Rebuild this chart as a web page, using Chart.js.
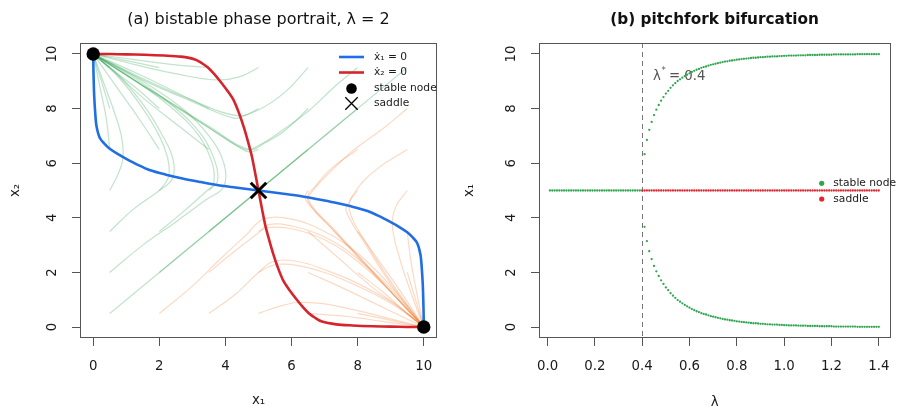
<!DOCTYPE html>
<html><head><meta charset="utf-8">
<script src="https://cdn.jsdelivr.net/npm/chart.js@4.4.1/dist/chart.umd.min.js"></script>
<style>
html,body{margin:0;padding:0;background:#fff;}
#wrap{position:relative;width:902px;height:409px;overflow:hidden;background:#fff}
canvas{position:absolute;top:0}
</style></head>
<body><div id="wrap">
<canvas id="cA" width="451" height="409" style="left:0"></canvas>
<canvas id="cB" width="451" height="409" style="left:451px"></canvas>
</div>
<script>
const FONT = '"DejaVu Sans", "Liberation Sans", sans-serif';

// ---------- text ----------
const titleA = '(a) bistable phase portrait, λ = 2';
const titleB = '(b) pitchfork bifurcation';
const legendA = ['ẋ₁ = 0', 'ẋ₂ = 0', 'stable node', 'saddle'];
const legendB = ['stable node', 'saddle'];
const axisTitlesA = ['x₁', 'x₂'];
const axisTitlesB = ['λ', 'x₁'];
const critText = ['λ', '*', '= 0.4'];
const critLambda = 0.4;

// ---------- ticks ----------
const phaseTicks = [0, 2, 4, 6, 8, 10];
const stateTicks = [0, 2, 4, 6, 8, 10];
const lambdaTicks = [0, 0.2, 0.4, 0.6, 0.8, 1.0, 1.2, 1.4];

// ---------- panel (a): nullclines ----------
const blueX = [0,0.005,0.015,0.03,0.06,0.1,0.2,0.35,0.5,0.75,1.0,1.35,1.7,2.2,2.7,3.2,3.7,4.3,5.0,5.7,6.3,6.8,7.3,7.8,8.3,8.65,9.0,9.25,9.5,9.65,9.8,9.9,9.94,9.97,9.985,9.995,10];
const blueY = [10,9.5,9.0,8.45,7.85,7.35,6.92,6.7,6.53,6.33,6.16,5.94,5.75,5.58,5.44,5.32,5.21,5.11,5.0,4.89,4.79,4.68,4.56,4.42,4.25,4.06,3.84,3.67,3.47,3.3,3.08,2.65,2.15,1.55,1.0,0.5,0];
const redX = [0,0.5,1.0,1.55,2.15,2.65,3.08,3.3,3.47,3.67,3.84,4.06,4.25,4.42,4.56,4.68,4.79,4.89,5.0,5.11,5.21,5.32,5.44,5.58,5.75,5.94,6.16,6.33,6.53,6.7,6.92,7.35,7.85,8.45,9.0,9.5,10];
const redY = [10,9.995,9.985,9.97,9.94,9.9,9.8,9.65,9.5,9.25,9.0,8.65,8.3,7.8,7.3,6.8,6.3,5.7,5.0,4.3,3.7,3.2,2.7,2.2,1.7,1.35,1.0,0.75,0.5,0.35,0.2,0.1,0.06,0.03,0.015,0.005,0];

// ---------- panel (a): fixed points ----------
const nodeX = [0, 10];
const nodeY = [10, 0];
const saddleX = [5];
const saddleY = [5];

// ---------- panel (a): trajectories ----------
const greenTrajX = [
 [0.5,0.25,0],
 [2,1.3,0.6,0],
 [3.5,2.5,1.3,0],
 [5,4.4,3.7,2.6,1.3,0],
 [6.5,5.8,5.0,4.3,3.0,1.5,0],
 [8,7.3,6.5,5.6,5.0,4.6,3.5,2.3,1.1,0],
 [0.5,0.3,0.12,0],
 [2,1.3,0.6,0],
 [3.5,2.5,1.3,0],
 [5,4.6,4.25,3.0,1.5,0],
 [6.5,5.8,5.2,4.7,3.5,2.3,1.1,0],
 [0.5,0.4,0.2,0],
 [2,1.4,0.7,0],
 [3.5,2.6,1.5,0.6,0],
 [5,4.8,4.6,3.5,2.3,1.1,0],
 [0.5,0.75,0.9,0.85,0.6,0.3,0],
 [2,2.2,2.3,2.25,2.0,1.5,0.8,0],
 [3.5,3.65,3.6,3.2,2.4,1.3,0],
 [0.5,1.2,2.0,2.4,2.4,2.1,1.6,0.85,0],
 [2,2.7,3.45,3.75,3.7,3.3,2.5,1.4,0],
 [0.5,1.5,2.5,3.4,3.95,3.95,3.5,2.7,1.5,0]
];
const greenTrajY = [
 [9.5,9.75,10],
 [9.5,9.68,9.85,10],
 [9.5,9.6,9.78,10],
 [9.5,9.15,9.05,9.25,9.6,10],
 [9.5,8.6,7.95,7.75,8.3,9.1,10],
 [9.5,8.8,7.9,7.1,6.65,6.5,7.3,8.25,9.15,10],
 [8,8.8,9.5,10],
 [8,8.75,9.4,10],
 [8,8.6,9.3,10],
 [8,7.75,7.65,8.25,9.05,10],
 [8,7.2,6.75,6.5,7.35,8.25,9.15,10],
 [6.5,7.6,8.8,10],
 [6.5,7.6,8.8,10],
 [6.5,7.35,8.4,9.4,10],
 [6.5,6.42,6.45,7.3,8.2,9.15,10],
 [5,5.6,6.2,7.0,8.0,9.0,10],
 [5,5.3,5.6,6.2,7.0,8.0,9.1,10],
 [5,5.3,6.0,7.0,8.0,9.0,10],
 [3.5,4.3,5.0,5.45,6.2,7.0,8.0,9.1,10],
 [3.5,4.2,5.0,5.3,6.0,7.0,8.0,9.0,10],
 [2,3.0,3.85,4.65,5.15,6.0,7.0,8.0,9.0,10]
];
const orangeTrajX = [
 [9.5,9.75,10],
 [9.5,9.68,9.85,10],
 [9.5,9.6,9.78,10],
 [9.5,9.15,9.05,9.25,9.6,10],
 [9.5,8.6,7.95,7.75,8.3,9.1,10],
 [9.5,8.8,7.9,7.1,6.65,6.5,7.3,8.25,9.15,10],
 [8,8.8,9.5,10],
 [8,8.75,9.4,10],
 [8,8.6,9.3,10],
 [8,7.75,7.65,8.25,9.05,10],
 [8,7.2,6.75,6.5,7.35,8.25,9.15,10],
 [6.5,7.6,8.8,10],
 [6.5,7.6,8.8,10],
 [6.5,7.35,8.4,9.4,10],
 [6.5,6.42,6.45,7.3,8.2,9.15,10],
 [5,5.6,6.2,7.0,8.0,9.0,10],
 [5,5.3,5.6,6.2,7.0,8.0,9.1,10],
 [5,5.3,6.0,7.0,8.0,9.0,10],
 [3.5,4.3,5.0,5.45,6.2,7.0,8.0,9.1,10],
 [3.5,4.2,5.0,5.3,6.0,7.0,8.0,9.0,10],
 [2,3.0,3.85,4.65,5.15,6.0,7.0,8.0,9.0,10]
];
const orangeTrajY = [
 [0.5,0.25,0],
 [2,1.3,0.6,0],
 [3.5,2.5,1.3,0],
 [5,4.4,3.7,2.6,1.3,0],
 [6.5,5.8,5.0,4.3,3.0,1.5,0],
 [8,7.3,6.5,5.6,5.0,4.6,3.5,2.3,1.1,0],
 [0.5,0.3,0.12,0],
 [2,1.3,0.6,0],
 [3.5,2.5,1.3,0],
 [5,4.6,4.25,3.0,1.5,0],
 [6.5,5.8,5.2,4.7,3.5,2.3,1.1,0],
 [0.5,0.4,0.2,0],
 [2,1.4,0.7,0],
 [3.5,2.6,1.5,0.6,0],
 [5,4.8,4.6,3.5,2.3,1.1,0],
 [0.5,0.75,0.9,0.85,0.6,0.3,0],
 [2,2.2,2.3,2.25,2.0,1.5,0.8,0],
 [3.5,3.65,3.6,3.2,2.4,1.3,0],
 [0.5,1.2,2.0,2.4,2.4,2.1,1.6,0.85,0],
 [2,2.7,3.45,3.75,3.7,3.3,2.5,1.4,0],
 [0.5,1.5,2.5,3.4,3.95,3.95,3.5,2.7,1.5,0]
];
const diagTrajX = [[0.5,5],[2,5],[3.5,5],[6.5,5],[8,5],[9.5,5]];
const diagTrajY = [[0.5,5],[2,5],[3.5,5],[6.5,5],[8,5],[9.5,5]];

// ---------- panel (b): bifurcation diagram ----------
const lambdaLow = [0.01,0.02,0.03,0.04,0.05,0.06,0.07,0.08,0.09,0.10,0.11,0.12,0.13,0.14,0.15,0.16,0.17,0.18,0.19,0.20,0.21,0.22,0.23,0.24,0.25,0.26,0.27,0.28,0.29,0.30,0.31,0.32,0.33,0.34,0.35,0.36,0.37,0.38,0.39];
const midStable = [5,5,5,5,5,5,5,5,5,5,5,5,5,5,5,5,5,5,5,5,5,5,5,5,5,5,5,5,5,5,5,5,5,5,5,5,5,5,5];
const lambdaHigh = [0.40,
 0.41,0.42,0.43,0.44,0.45,0.46,0.47,0.48,0.49,0.50,
 0.51,0.52,0.53,0.54,0.55,0.56,0.57,0.58,0.59,0.60,
 0.61,0.62,0.63,0.64,0.65,0.66,0.67,0.68,0.69,0.70,
 0.71,0.72,0.73,0.74,0.75,0.76,0.77,0.78,0.79,0.80,
 0.81,0.82,0.83,0.84,0.85,0.86,0.87,0.88,0.89,0.90,
 0.91,0.92,0.93,0.94,0.95,0.96,0.97,0.98,0.99,1.00,
 1.01,1.02,1.03,1.04,1.05,1.06,1.07,1.08,1.09,1.10,
 1.11,1.12,1.13,1.14,1.15,1.16,1.17,1.18,1.19,1.20,
 1.21,1.22,1.23,1.24,1.25,1.26,1.27,1.28,1.29,1.30,
 1.31,1.32,1.33,1.34,1.35,1.36,1.37,1.38,1.39,1.40];
const midSaddle = [5,
 5,5,5,5,5,5,5,5,5,5, 5,5,5,5,5,5,5,5,5,5, 5,5,5,5,5,5,5,5,5,5, 5,5,5,5,5,5,5,5,5,5,
 5,5,5,5,5,5,5,5,5,5, 5,5,5,5,5,5,5,5,5,5, 5,5,5,5,5,5,5,5,5,5, 5,5,5,5,5,5,5,5,5,5,
 5,5,5,5,5,5,5,5,5,5, 5,5,5,5,5,5,5,5,5,5];
const upperBranch = [null,
 6.33,6.85,7.22,7.51,7.76,7.96,8.13,8.29,8.42,8.55,
 8.65,8.76,8.85,8.93,9.01,9.07,9.13,9.19,9.24,9.29,
 9.34,9.38,9.42,9.45,9.49,9.52,9.54,9.57,9.60,9.62,
 9.64,9.66,9.68,9.70,9.72,9.73,9.75,9.76,9.77,9.79,
 9.80,9.81,9.82,9.83,9.84,9.85,9.86,9.86,9.87,9.88,
 9.88,9.89,9.90,9.90,9.91,9.91,9.91,9.92,9.92,9.93,
 9.93,9.94,9.94,9.94,9.94,9.95,9.95,9.95,9.95,9.96,
 9.96,9.96,9.96,9.96,9.97,9.97,9.97,9.97,9.97,9.97,
 9.98,9.98,9.98,9.98,9.98,9.98,9.98,9.98,9.98,9.98,
 9.99,9.99,9.99,9.99,9.99,9.99,9.99,9.99,9.99,9.99];
const lowerBranch = [null,
 3.67,3.15,2.78,2.49,2.24,2.04,1.87,1.71,1.58,1.45,
 1.35,1.24,1.15,1.07,0.99,0.93,0.87,0.81,0.76,0.71,
 0.66,0.62,0.58,0.55,0.51,0.48,0.46,0.43,0.40,0.38,
 0.36,0.34,0.32,0.30,0.28,0.27,0.25,0.24,0.23,0.21,
 0.20,0.19,0.18,0.17,0.16,0.15,0.14,0.14,0.13,0.12,
 0.12,0.11,0.10,0.10,0.09,0.09,0.09,0.08,0.08,0.07,
 0.07,0.06,0.06,0.06,0.06,0.05,0.05,0.05,0.05,0.04,
 0.04,0.04,0.04,0.04,0.03,0.03,0.03,0.03,0.03,0.03,
 0.02,0.02,0.02,0.02,0.02,0.02,0.02,0.02,0.02,0.02,
 0.01,0.01,0.01,0.01,0.01,0.01,0.01,0.01,0.01,0.01];

// ---------- styles ----------
const C_BLUE = '#1f6fe3';
const C_RED = '#d6242c';
const C_GREEN_T = 'rgba(49,163,84,0.30)';
const C_ORANGE_T = 'rgba(241,120,40,0.27)';
const C_PT_GREEN = '#2fa64f';
const C_PT_RED = '#e0262c';
const C_TEXT = '#1a1a1a';

const pts = (xs, ys) => xs.map((x, i) => ({ x: x, y: ys[i] }));

function makeScale(axis, min, max, tickVals, fmt, titleText, titlePad, size) {
  const isY = axis === 'y';
  return {
    type: 'linear', min: min, max: max,
    position: isY ? 'left' : 'bottom',
    afterFit: (s) => { if (isY) s.width = size; else s.height = size; },
    afterBuildTicks: (s) => { s.ticks = tickVals.map(v => ({ value: v })); },
    grid: { display: true, drawOnChartArea: false, drawTicks: true, tickLength: 8, color: '#555', lineWidth: 1 },
    border: { display: false },
    ticks: {
      autoSkip: false,
      padding: isY ? 11 : 12.5,
      font: { size: 13.3, family: FONT },
      color: C_TEXT,
      minRotation: isY ? 90 : 0, maxRotation: isY ? 90 : 0,
      crossAlign: isY ? 'center' : 'near',
      callback: (v) => fmt(v)
    },
    title: { display: true, text: titleText, color: C_TEXT, font: { size: 13.3, family: FONT }, padding: titlePad }
  };
}

function drawBox(chart) {
  const { ctx, chartArea: a } = chart;
  ctx.save();
  ctx.strokeStyle = '#555';
  ctx.lineWidth = 1;
  const x0 = Math.floor(a.left) + 0.5, x1 = Math.ceil(a.right) - 0.5;
  const y0 = Math.floor(a.top) + 0.5, y1 = Math.ceil(a.bottom) - 0.5;
  ctx.strokeRect(x0, y0, x1 - x0, y1 - y0);
  ctx.restore();
}

// ---------- panel (a) ----------
const dsA = [];
dsA.push({ data: pts(nodeX, nodeY), showLine: false, pointRadius: 6.7, pointBackgroundColor: '#000', pointBorderWidth: 0, order: 0 });
dsA.push({ data: pts(saddleX, saddleY), showLine: false, pointStyle: 'crossRot', pointRadius: 11, pointBorderColor: '#000', pointBorderWidth: 3, order: 0 });
dsA.push({ data: pts(redX, redY), showLine: true, borderColor: C_RED, borderWidth: 2.6, pointRadius: 0, tension: 0.3, order: 1 });
dsA.push({ data: pts(blueX, blueY), showLine: true, borderColor: C_BLUE, borderWidth: 2.6, pointRadius: 0, tension: 0.3, order: 1 });
greenTrajX.forEach((xs, i) => dsA.push({ data: pts(xs, greenTrajY[i]), showLine: true, borderColor: C_GREEN_T, borderWidth: 1.2, pointRadius: 0, tension: 0.4, order: 2 }));
orangeTrajX.forEach((xs, i) => dsA.push({ data: pts(xs, orangeTrajY[i]), showLine: true, borderColor: C_ORANGE_T, borderWidth: 1.2, pointRadius: 0, tension: 0.4, order: 2 }));
diagTrajX.forEach((xs, i) => dsA.push({ data: pts(xs, diagTrajY[i]), showLine: true, borderColor: C_GREEN_T, borderWidth: 1.2, pointRadius: 0, tension: 0, order: 2 }));

const panelAPlugin = {
  id: 'panelA',
  afterDraw(chart) {
    drawBox(chart);
    const { ctx, chartArea: a } = chart;
    ctx.save();
    ctx.fillStyle = '#111';
    ctx.font = '16px ' + FONT;
    ctx.textAlign = 'center';
    ctx.textBaseline = 'alphabetic';
    ctx.fillText(titleA, (a.left + a.right) / 2, 24);
    // legend
    const lx0 = 339, lx1 = 364, mx = 351.5, tx = 374;
    const ly = [57, 72.5, 88.5, 103.5];
    ctx.lineWidth = 2.6;
    ctx.strokeStyle = C_BLUE;
    ctx.beginPath(); ctx.moveTo(lx0, ly[0]); ctx.lineTo(lx1, ly[0]); ctx.stroke();
    ctx.strokeStyle = C_RED;
    ctx.beginPath(); ctx.moveTo(lx0, ly[1]); ctx.lineTo(lx1, ly[1]); ctx.stroke();
    ctx.fillStyle = '#000';
    ctx.beginPath(); ctx.arc(mx, ly[2], 5.3, 0, Math.PI * 2); ctx.fill();
    ctx.strokeStyle = '#000'; ctx.lineWidth = 1.3;
    const h = 6.2;
    ctx.beginPath();
    ctx.moveTo(mx - h, ly[3] - h); ctx.lineTo(mx + h, ly[3] + h);
    ctx.moveTo(mx - h, ly[3] + h); ctx.lineTo(mx + h, ly[3] - h);
    ctx.stroke();
    ctx.fillStyle = C_TEXT;
    ctx.font = '10.7px ' + FONT;
    ctx.textAlign = 'left';
    ctx.textBaseline = 'middle';
    legendA.forEach((t, i) => ctx.fillText(t, tx, ly[i]));
    ctx.restore();
  }
};

new Chart(document.getElementById('cA'), {
  type: 'scatter',
  data: { datasets: dsA },
  options: {
    responsive: false, animation: false, devicePixelRatio: 1,
    layout: { padding: { left: 0, right: 8, top: 43, bottom: 0 } },
    plugins: { legend: { display: false }, tooltip: { enabled: false } },
    scales: {
      x: makeScale('x', -0.4, 10.4, phaseTicks, v => String(v), axisTitlesA[0], { top: 0, bottom: 0.5 }, 71),
      y: makeScale('y', -0.4, 10.4, phaseTicks, v => String(v), axisTitlesA[1], { top: 7.4, bottom: 0 }, 80)
    }
  },
  plugins: [panelAPlugin]
});

// ---------- panel (b) ----------
const dsB = [
  { data: pts(lambdaLow, midStable), backgroundColor: C_PT_GREEN, pointRadius: 1.15, pointBorderWidth: 0 },
  { data: pts(lambdaHigh, upperBranch), backgroundColor: C_PT_GREEN, pointRadius: 1.15, pointBorderWidth: 0 },
  { data: pts(lambdaHigh, lowerBranch), backgroundColor: C_PT_GREEN, pointRadius: 1.15, pointBorderWidth: 0 },
  { data: pts(lambdaHigh, midSaddle), backgroundColor: C_PT_RED, pointRadius: 1.15, pointBorderWidth: 0 }
];

const panelBPlugin = {
  id: 'panelB',
  beforeDatasetsDraw(chart) {
    const { ctx, chartArea: a, scales } = chart;
    const px = Math.round(scales.x.getPixelForValue(critLambda)) + 0.5;
    ctx.save();
    ctx.strokeStyle = '#777';
    ctx.lineWidth = 1;
    ctx.setLineDash([5, 4]);
    ctx.beginPath(); ctx.moveTo(px, a.top); ctx.lineTo(px, a.bottom); ctx.stroke();
    ctx.setLineDash([]);
    ctx.fillStyle = '#555';
    ctx.textBaseline = 'alphabetic';
    ctx.textAlign = 'left';
    ctx.font = '13.3px ' + FONT;
    ctx.fillText(critText[0], px + 10.5, 80);
    ctx.font = '8.5px ' + FONT;
    ctx.fillText(critText[1], px + 19, 73);
    ctx.font = '13.3px ' + FONT;
    ctx.fillText(critText[2], px + 26.5, 80);
    ctx.restore();
  },
  afterDraw(chart) {
    drawBox(chart);
    const { ctx, chartArea: a } = chart;
    ctx.save();
    ctx.fillStyle = '#111';
    ctx.font = 'bold 15.3px ' + FONT;
    ctx.textAlign = 'center';
    ctx.textBaseline = 'alphabetic';
    ctx.fillText(titleB, (a.left + a.right) / 2, 24);
    const mx = 370.7, tx = 382.3, ly = [183.3, 199];
    ctx.fillStyle = C_PT_GREEN;
    ctx.beginPath(); ctx.arc(mx, ly[0], 2.6, 0, Math.PI * 2); ctx.fill();
    ctx.fillStyle = C_PT_RED;
    ctx.beginPath(); ctx.arc(mx, ly[1], 2.6, 0, Math.PI * 2); ctx.fill();
    ctx.fillStyle = C_TEXT;
    ctx.font = '10.7px ' + FONT;
    ctx.textAlign = 'left';
    ctx.textBaseline = 'middle';
    legendB.forEach((t, i) => ctx.fillText(t, tx, ly[i]));
    ctx.restore();
  }
};

new Chart(document.getElementById('cB'), {
  type: 'scatter',
  data: { datasets: dsB },
  options: {
    responsive: false, animation: false, devicePixelRatio: 1,
    layout: { padding: { left: 0, right: 1, top: 43, bottom: 0 } },
    plugins: { legend: { display: false }, tooltip: { enabled: false } },
    scales: {
      x: makeScale('x', -0.036, 1.448, lambdaTicks, v => v.toFixed(1), axisTitlesB[0], { top: 0, bottom: -2 }, 71),
      y: makeScale('y', -0.4, 10.4, stateTicks, v => String(v), axisTitlesB[1], { top: 11, bottom: 0 }, 88)
    }
  },
  plugins: [panelBPlugin]
});
</script>
</body></html>
